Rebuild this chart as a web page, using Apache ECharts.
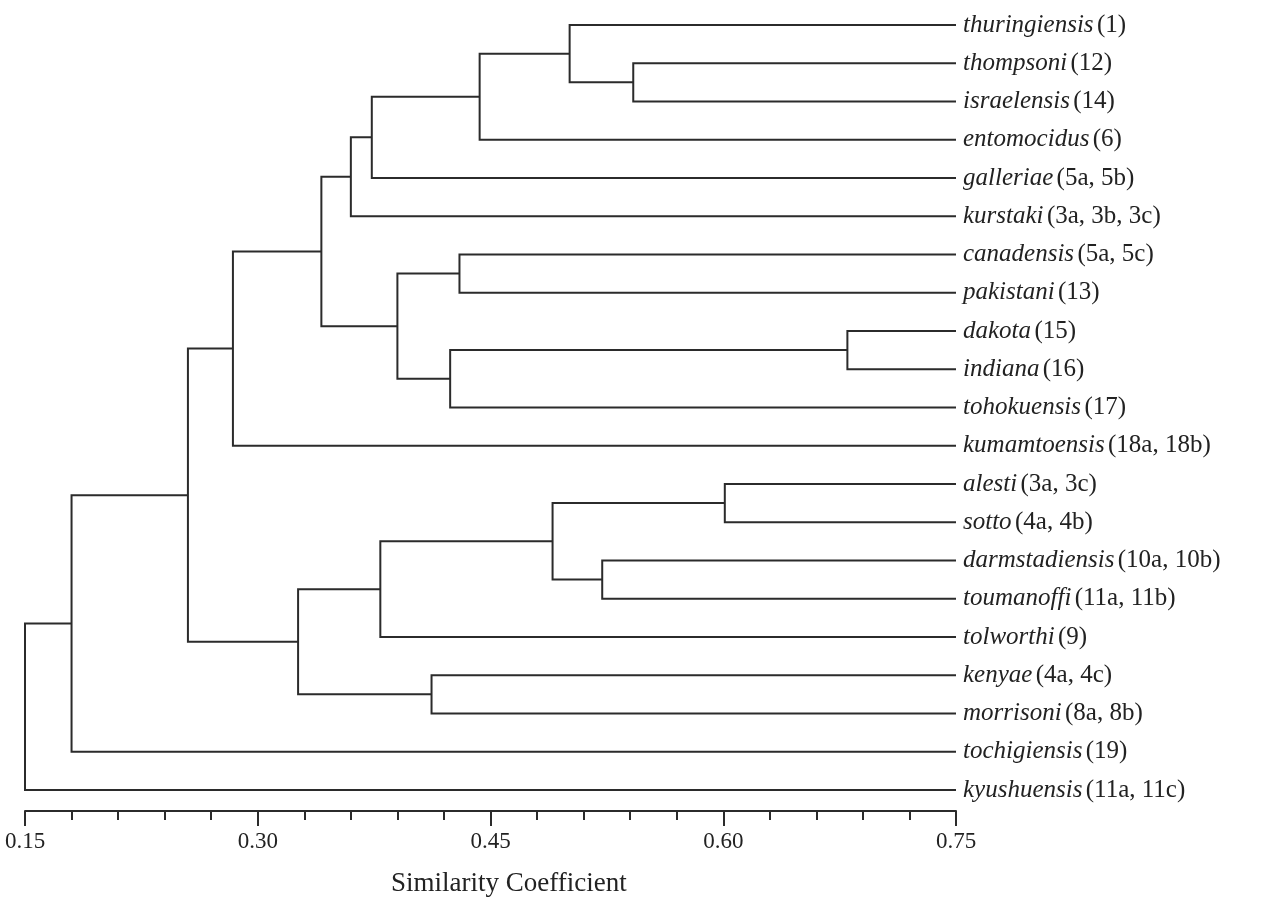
<!DOCTYPE html>
<html>
<head>
<meta charset="utf-8">
<title>Dendrogram</title>
<script src="https://cdn.jsdelivr.net/npm/echarts@6/dist/echarts.min.js"></script>
<style>
  html, body { margin: 0; padding: 0; background: #fff; }
  #chart { width: 1267px; height: 899px; }
</style>
</head>
<body>
<div id="chart"></div>
<script>
// leaf names (italic) and their serotype tags, top to bottom
var leafNames = ['thuringiensis', 'thompsoni', 'israelensis', 'entomocidus', 'galleriae', 'kurstaki',
    'canadensis', 'pakistani', 'dakota', 'indiana', 'tohokuensis', 'kumamtoensis',
    'alesti', 'sotto', 'darmstadiensis', 'toumanoffi', 'tolworthi', 'kenyae', 'morrisoni',
    'tochigiensis', 'kyushuensis'];
var leafTags = ['(1)', '(12)', '(14)', '(6)', '(5a, 5b)', '(3a, 3b, 3c)',
    '(5a, 5c)', '(13)', '(15)', '(16)', '(17)', '(18a, 18b)',
    '(3a, 3c)', '(4a, 4b)', '(10a, 10b)', '(11a, 11b)', '(9)', '(4a, 4c)', '(8a, 8b)',
    '(19)', '(11a, 11c)'];

// merges, like a linkage table: child a, child b (ids >= 21 are earlier merges), similarity
var mergeA = [8, 12, 1, 14, 0, 22, 25, 6, 21, 17, 28, 26, 27, 33, 34, 32, 35, 37, 38, 39];
var mergeB = [9, 13, 2, 15, 23, 24, 3, 7, 10, 18, 29, 16, 4, 5, 31, 30, 11, 36, 19, 20];
var mergeSim = [0.680, 0.601, 0.542, 0.522, 0.501, 0.490, 0.443, 0.430, 0.424, 0.412,
    0.390, 0.379, 0.3735, 0.360, 0.341, 0.326, 0.284, 0.255, 0.180, 0.150];

var xTicks = { min: 0.15, max: 0.75, step: 0.15 };

// node positions: leaves sit at their row and the right end of the axis
var nodeY = [], nodeH = [];
leafNames.forEach(function (n, i) { nodeY.push(i); nodeH.push(xTicks.max); });
var links = [];
mergeSim.forEach(function (s, k) {
    var a = mergeA[k], b = mergeB[k];
    links.push([s, nodeY[a], nodeY[b], nodeH[a], nodeH[b]]);
    nodeY.push((nodeY[a] + nodeY[b]) / 2);
    nodeH.push(s);
});

var lineColor = '#2b2b2b';
var serif = '"Liberation Serif", "Times New Roman", serif';

var chart = echarts.init(document.getElementById('chart'));
var option = {
    backgroundColor: '#fff',
    animation: false,
    title: {
        text: 'Similarity Coefficient',
        left: 386,
        top: 865,
        textStyle: { fontFamily: serif, fontSize: 27, fontWeight: 'normal', color: '#222' }
    },
    grid: { left: 25, right: 311, top: 25, bottom: 88 },
    xAxis: {
        type: 'value',
        position: 'bottom',
        min: xTicks.min,
        max: xTicks.max,
        interval: xTicks.step,
        axisLine: { show: true, onZero: false, lineStyle: { color: lineColor, width: 2 } },
        axisTick: { show: true, length: 15, lineStyle: { color: lineColor, width: 2 } },
        minorTick: { show: true, splitNumber: 5, length: 9, lineStyle: { color: lineColor, width: 2 } },
        splitLine: { show: false },
        axisLabel: {
            margin: 19,
            fontFamily: serif,
            fontSize: 23,
            color: '#222',
            formatter: function (v) { return v.toFixed(2); }
        }
    },
    yAxis: {
        type: 'value',
        inverse: true,
        min: 0,
        max: 20.55,
        interval: 1,
        position: 'right',
        axisLine: { show: false },
        axisTick: { show: false },
        splitLine: { show: false },
        axisLabel: {
            margin: 7,
            showMaxLabel: false,
            formatter: function (v) {
                if (!Number.isInteger(v) || !leafNames[v]) return '';
                return '{n|' + leafNames[v] + '} {t|' + leafTags[v] + '}';
            },
            rich: {
                n: { fontFamily: serif, fontStyle: 'italic', fontSize: 25, color: '#222' },
                t: { fontFamily: serif, fontSize: 25, color: '#222' }
            }
        }
    },
    series: [{
        type: 'custom',
        clip: false,
        data: links,
        renderItem: function (params, api) {
            var x = api.value(0), ya = api.value(1), yb = api.value(2);
            var ha = api.value(3), hb = api.value(4);
            var pts = [
                api.coord([ha, ya]),
                api.coord([x, ya]),
                api.coord([x, yb]),
                api.coord([hb, yb])
            ];
            return {
                type: 'polyline',
                shape: { points: pts },
                style: { stroke: lineColor, lineWidth: 2, fill: null }
            };
        }
    }]
};
chart.setOption(option);
window.onresize = chart.resize;
</script>
</body>
</html>
